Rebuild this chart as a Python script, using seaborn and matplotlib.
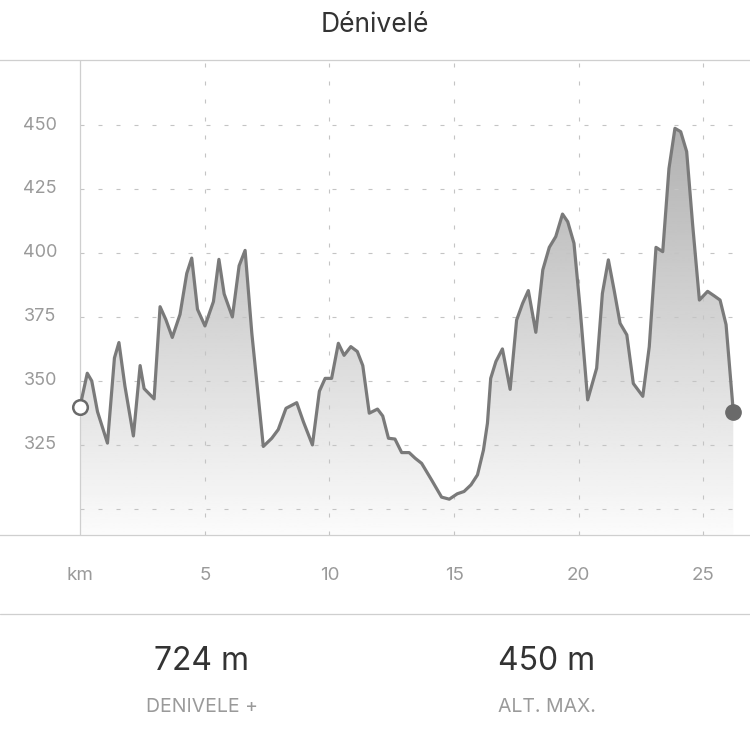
import numpy as np
import matplotlib
matplotlib.use("Agg")
import matplotlib.pyplot as plt
import seaborn as sns
from matplotlib.lines import Line2D
from matplotlib.transforms import blended_transform_factory

# elevation profile
km = [0, 0.29, 0.47, 0.7, 1.1, 1.38, 1.56, 1.8, 2.14, 2.41, 2.57, 2.97, 3.21, 3.44, 3.7,
      4.01, 4.28, 4.48, 4.71, 5.01, 5.35, 5.57, 5.78, 6.11, 6.38, 6.62, 6.89, 7.35, 7.69,
      7.95, 8.26, 8.69, 8.96, 9.32, 9.6, 9.83, 10.09, 10.36, 10.59, 10.86, 11.12, 11.34,
      11.6, 11.93, 12.14, 12.37, 12.63, 12.9, 13.2, 13.44, 13.7, 14.1, 14.5, 14.81, 15.13,
      15.4, 15.68, 15.94, 16.18, 16.34, 16.47, 16.68, 16.94, 17.25, 17.51, 17.75, 17.98,
      18.28, 18.56, 18.82, 19.08, 19.35, 19.56, 19.81, 20.05, 20.36, 20.72, 20.95, 21.19,
      21.42, 21.66, 21.93, 22.19, 22.57, 22.83, 23.1, 23.37, 23.62, 23.86, 24.09, 24.33,
      24.57, 24.84, 25.17, 25.44, 25.67, 25.91, 26.2]
alt = [340, 353, 350, 338, 325.7, 359, 365, 348, 328.5, 356, 347, 343, 379, 374, 367,
       376, 392, 398, 378, 371.5, 381, 397.5, 384, 375, 395, 401, 368.6, 324.4, 327.6,
       331, 339.3, 341.5, 334, 325, 346, 351, 351, 364.7, 360, 363.4, 361.5, 356,
       337.4, 339, 336.3, 327.6, 327.3, 322, 322, 319.8, 317.8, 311.3, 304.6, 303.8, 305.9,
       306.8, 309.4, 313.3, 323, 333.5, 351, 357.6, 362.5, 346.7, 373.8, 380.3, 385.3,
       369, 393.4, 402.2, 406.4, 415.2, 412.2, 403.8, 379, 342.6, 355, 384.2, 397.3,
       385.5, 372.5, 368, 349, 344, 363.4, 402.2, 400.5, 433, 448.7, 447.4, 439.6,
       411, 381.6, 385, 383.2, 381.6, 372, 338]

y_grid = [300, 325, 350, 375, 400, 425, 450]
y_labels = ["325", "350", "375", "400", "425", "450"]
x_ticks = [5, 10, 15, 20, 25]
x_labels = ["5", "10", "15", "20", "25"]

title = "Dénivelé"
stats = [("724 m", "DENIVELE +"), ("450 m", "ALT. MAX.")]

sns.set_theme(style="white")
plt.rcParams["font.family"] = ["Inter", "DejaVu Sans"]

W, H = 750, 741
fig = plt.figure(figsize=(W / 100, H / 100), dpi=100)
ax = fig.add_axes([0, (H - 535) / H, 1, 475 / H])

ymin, ymax = 289.8, 475.4
ax.set_xlim(-3.21, 26.87)
ax.set_ylim(ymin, ymax)

# gradient fill under the profile
poly = ax.fill_between(km, alt, ymin, facecolor="none", edgecolor="none")
grad = np.linspace(0.985, 0.645, 256).reshape(-1, 1)
im = ax.imshow(grad, cmap="gray", vmin=0, vmax=1, aspect="auto", origin="lower",
               extent=[km[0], km[-1], ymin, ymax], zorder=1)
im.set_clip_path(poly.get_paths()[0], ax.transData)

# grid
grid_kw = dict(color="#c4c4c4", lw=0.8, linestyles=(0, (3.6, 12.6)), zorder=2)
ax.hlines(y_grid, km[0], km[-1], **grid_kw)
ax.vlines(x_ticks, ymin, ymax, **grid_kw)
ax.axvline(0, color="#cfcfcf", lw=0.9, zorder=2)

sns.lineplot(x=km, y=alt, ax=ax, color="#7a7a7a", lw=2.3, zorder=3)
ax.plot(km[0], alt[0], "o", ms=10.5, mfc="white", mec="#6a6a6a", mew=1.8, zorder=4, clip_on=False)
ax.plot(km[-1], alt[-1], "o", ms=11, mfc="#6a6a6a", mec="#6a6a6a", zorder=4, clip_on=False)

ax.set_xticks([])
ax.set_yticks([])
for s in ["left", "right"]:
    ax.spines[s].set_visible(False)
for s in ["top", "bottom"]:
    ax.spines[s].set_color("#cfcfcf")
    ax.spines[s].set_linewidth(0.9)

# y labels
for v, lab in zip(y_grid[1:], y_labels):
    ax.text(-1.6, v, lab, ha="center", va="center", fontsize=13, color="#9a9a9a")

# x labels
bt = blended_transform_factory(ax.transData, fig.transFigure)
xy = 1 - 576 / H
ax.text(0, xy, "km", transform=bt, ha="center", va="center", fontsize=13.5, color="#9a9a9a")
for k, lab in zip(x_ticks, x_labels):
    ax.text(k, xy, lab, transform=bt, ha="center", va="center", fontsize=13.5, color="#9a9a9a")

fig.text(0.5, 1 - 25 / H, title, ha="center", va="center", fontsize=19, color="#333333")
fig.add_artist(Line2D([0, 1], [1 - 614 / H] * 2, transform=fig.transFigure,
                      color="#cfcfcf", lw=0.9))

for cx, (val, lab) in zip([202 / W, 547 / W], stats):
    fig.text(cx, 1 - 662 / H, val, ha="center", va="center", fontsize=23, color="#333333")
    fig.text(cx, 1 - 707 / H, lab, ha="center", va="center", fontsize=14, color="#9a9a9a")

fig.savefig("out.png", dpi=100)
